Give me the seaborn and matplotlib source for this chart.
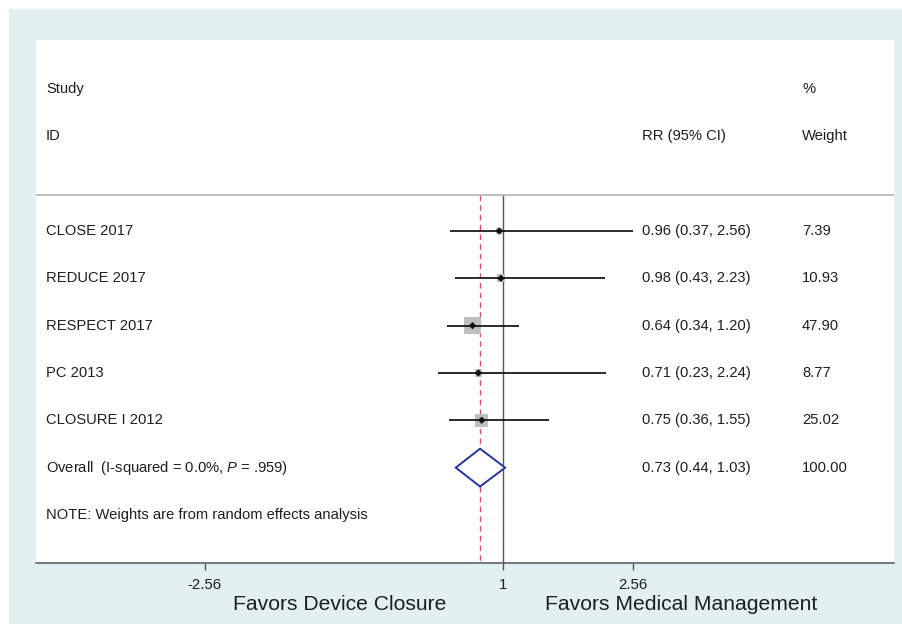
import numpy as np
import pandas as pd
import matplotlib
matplotlib.use("Agg")
import matplotlib.pyplot as plt
from matplotlib.patches import Rectangle, Polygon
import seaborn as sns

# forest plot data (RR with 95% CI and random-effects weights)
studies = ["CLOSE 2017", "REDUCE 2017", "RESPECT 2017", "PC 2013", "CLOSURE I 2012"]
rr = [0.96, 0.98, 0.64, 0.71, 0.75]
ci_lo = [0.37, 0.43, 0.34, 0.23, 0.36]
ci_hi = [2.56, 2.23, 1.20, 2.24, 1.55]
weights = [7.39, 10.93, 47.90, 8.77, 25.02]
overall_rr, overall_lo, overall_hi = 0.73, 0.44, 1.03
overall_weight = 100.00
overall_label = r"Overall  (I-squared = 0.0%, $\mathit{P}$ = .959)"
note = "NOTE: Weights are from random effects analysis"
xticks = [-2.56, 1, 2.56]
xticklabels = ["-2.56", "1", "2.56"]
favors = ["Favors Device Closure", "Favors Medical Management"]
favors_x = [-0.95, 3.14]

sns.set_theme(style="white")
plt.rcParams["font.family"] = ["Liberation Sans", "DejaVu Sans"]
plt.rcParams["mathtext.fontset"] = "custom"
plt.rcParams["mathtext.it"] = "Liberation Sans:italic"
plt.rcParams["mathtext.rm"] = "Liberation Sans"

teal = "#e2f0f0"
txt = "#1e1e1e"
fs = 10.6

df = pd.DataFrame({"study": studies, "rr": rr, "lo": ci_lo, "hi": ci_hi, "w": weights})
df["row"] = np.arange(4, 4 + len(df))
overall_row = df["row"].max() + 1
note_row = overall_row + 1

fig = plt.figure(figsize=(9.02, 6.24), dpi=100)
fig.patch.set_facecolor("white")
fig.add_artist(Rectangle((9 / 902, 0), 1, (624 - 9) / 624, transform=fig.transFigure,
                         facecolor=teal, edgecolor="none", zorder=-10))
ax = fig.add_axes([36 / 902, 61 / 624, 858 / 902, 523 / 624])
ax.set_facecolor("white")

ax.set_xlim(-4.58, 5.68)
ax.set_ylim(11.015, -0.035)

# header
ax.text(-4.46, 1, "Study", fontsize=fs, color=txt, va="center")
ax.text(-4.46, 2, "ID", fontsize=fs, color=txt, va="center")
ax.text(2.67, 2, "RR (95% CI)", fontsize=fs, color=txt, va="center")
ax.text(4.58, 1, "%", fontsize=fs, color=txt, va="center")
ax.text(4.58, 2, "Weight", fontsize=fs, color=txt, va="center")
ax.axhline(3.24, color="#b4b4b4", lw=1.2)

# reference lines
ax.vlines(1, 3.24, 11.015, color="#555555", lw=1.0, zorder=1)
ax.vlines(overall_rr, 3.24, 11.015, color="#e0505a", lw=1.0, linestyles=(0, (4, 3)), zorder=1)

# weight boxes, area proportional to weight
sns.scatterplot(data=df, x="rr", y="row", size="w", sizes=(0, 100 * 3.3), size_norm=(0, 100),
                marker="s", color="#bfbfbf", edgecolor="none", legend=False, ax=ax, zorder=2)
ax.hlines(df["row"], df["lo"], df["hi"], color="#1a1a1a", lw=1.3, zorder=3)
sns.scatterplot(data=df, x="rr", y="row", marker="D", color="#111111", s=14,
                edgecolor="none", legend=False, ax=ax, zorder=4)

# pooled estimate diamond
h = 0.4
ax.add_patch(Polygon([(overall_lo, overall_row), (overall_rr, overall_row - h),
                      (overall_hi, overall_row), (overall_rr, overall_row + h)],
                     closed=True, facecolor="white", edgecolor="#23349a", lw=1.4, zorder=3))

# study labels and right columns
for _, r in df.iterrows():
    ax.text(-4.46, r["row"], r["study"], fontsize=fs, color=txt, va="center")
    ax.text(2.67, r["row"], f"{r['rr']:.2f} ({r['lo']:.2f}, {r['hi']:.2f})",
            fontsize=fs, color=txt, va="center")
    ax.text(4.58, r["row"], f"{r['w']:.2f}", fontsize=fs, color=txt, va="center")
ax.text(-4.46, overall_row, overall_label, fontsize=fs, color=txt, va="center")
ax.text(2.67, overall_row, f"{overall_rr:.2f} ({overall_lo:.2f}, {overall_hi:.2f})",
        fontsize=fs, color=txt, va="center")
ax.text(4.58, overall_row, f"{overall_weight:.2f}", fontsize=fs, color=txt, va="center")
ax.text(-4.46, note_row, note, fontsize=fs, color=txt, va="center")

# x axis
ax.set_xlabel("")
ax.set_ylabel("")
for s in ["left", "right", "top"]:
    ax.spines[s].set_visible(False)
ax.spines["bottom"].set_color("#555555")
ax.spines["bottom"].set_linewidth(1.1)
ax.set_yticks([])
ax.set_xticks(xticks)
ax.set_xticklabels(xticklabels)
ax.tick_params(axis="x", direction="out", length=5, width=1, color="#555555",
               labelsize=10.8, labelcolor=txt, pad=6, bottom=True)
for x, lab in zip(favors_x, favors):
    ax.text(x, -0.08, lab, transform=ax.get_xaxis_transform(), fontsize=15.2,
            color=txt, ha="center", va="center")

fig.savefig("out.png", dpi=100, facecolor=fig.get_facecolor())
